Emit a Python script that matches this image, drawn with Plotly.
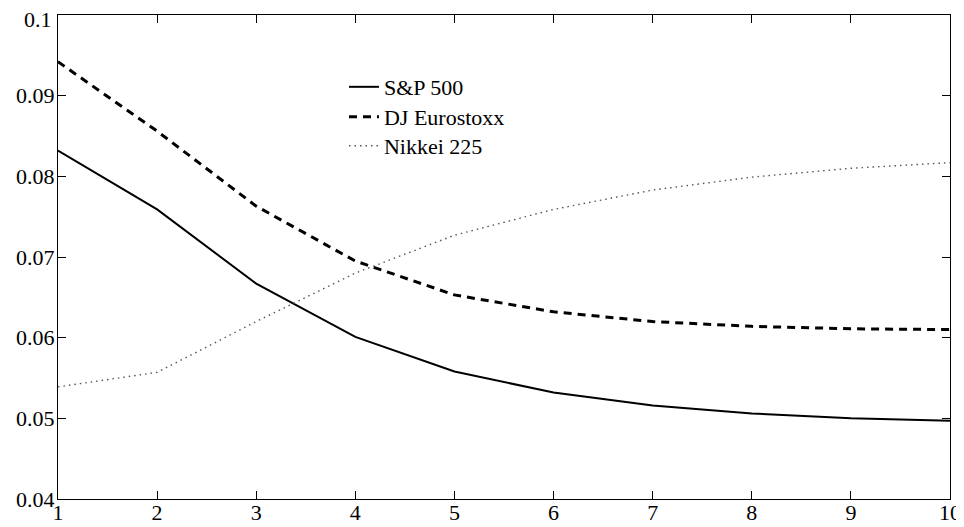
import plotly.graph_objects as go

horizon = [1, 2, 3, 4, 5, 6, 7, 8, 9, 10]
sp500 = [0.0832, 0.0759, 0.0667, 0.0601, 0.0558, 0.0532, 0.0516, 0.0506, 0.0500, 0.0497]
eurostoxx = [0.0942, 0.0856, 0.0763, 0.0695, 0.0653, 0.0632, 0.0620, 0.0614, 0.0611, 0.0610]
nikkei = [0.0539, 0.0557, 0.0620, 0.0680, 0.0727, 0.0759, 0.0783, 0.0799, 0.0810, 0.0817]
y_ticks = [0.04, 0.05, 0.06, 0.07, 0.08, 0.09, 0.1]
y_tick_labels = ["0.04", "0.05", "0.06", "0.07", "0.08", "0.09", "0.1"]

FONT = "Liberation Serif"

fig = go.Figure()
fig.add_trace(go.Scatter(x=horizon, y=sp500, mode="lines", name="S&P 500",
                         legend="legend", line=dict(color="black", width=2)))
fig.add_trace(go.Scatter(x=horizon, y=eurostoxx, mode="lines", name="DJ Eurostoxx",
                         legend="legend2", line=dict(color="black", width=3, dash="8px,6px")))
fig.add_trace(go.Scatter(x=horizon, y=nikkei, mode="lines", name="Nikkei 225",
                         legend="legend3", line=dict(color="#555555", width=1.4, dash="1.5px,4px")))

axis_common = dict(showline=True, linecolor="black", linewidth=1, mirror="allticks",
                   ticks="inside", ticklen=8, tickcolor="black", tickwidth=1,
                   showgrid=False, zeroline=False, automargin=False,
                   ticklabeloverflow="allow",
                   tickfont=dict(family=FONT, size=22, color="black"))

# the top label is placed as an annotation (nudged down to stay inside the page)
top_label = y_tick_labels[-1]
axis_labels = y_tick_labels[:-1] + [""]

fig.update_xaxes(range=[1, 10], tickvals=horizon, ticklabelstandoff=-6, **axis_common)
fig.update_yaxes(range=[0.04, 0.1], tickvals=y_ticks, ticktext=axis_labels,
                 ticklabelstandoff=-2, **axis_common)

fig.add_annotation(x=0, xref="paper", y=y_ticks[-1], yref="y", text=top_label,
                   showarrow=False, xanchor="right", yanchor="middle",
                   xshift=-5, yshift=-4, borderpad=0,
                   font=dict(family=FONT, size=22, color="black"))

leg_common = dict(xanchor="left", yanchor="middle", bgcolor="rgba(0,0,0,0)", borderwidth=0,
                  font=dict(family=FONT, size=22, color="black"))

fig.update_layout(
    width=956, height=519,
    margin=dict(l=50, r=14, t=7, b=28, autoexpand=False),
    paper_bgcolor="white", plot_bgcolor="white",
    font=dict(family=FONT, size=22, color="black"),
    showlegend=True,
    legend=dict(x=0.3206, y=0.8512, **leg_common),
    legend2=dict(x=0.3206, y=0.7893, **leg_common),
    legend3=dict(x=0.3206, y=0.7293, **leg_common),
)

fig.write_html("out.html")
